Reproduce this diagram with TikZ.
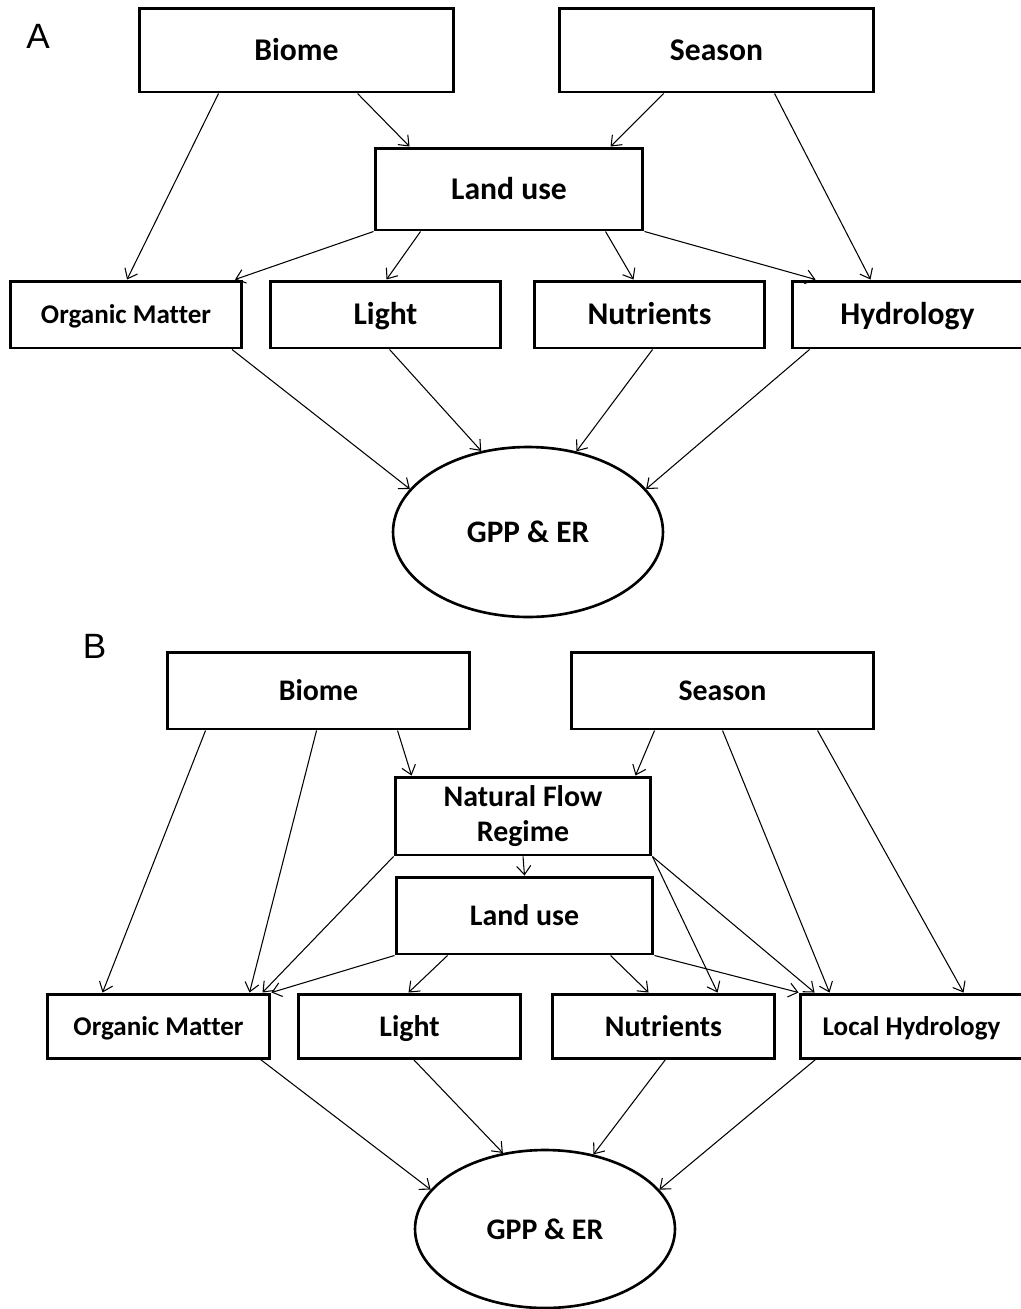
\documentclass[tikz,border=0pt]{standalone}
\usepackage{fontspec}
\setmainfont{Carlito}[Ligatures=CommonOff]
\newfontfamily\panelfont{Liberation Sans}
\usetikzlibrary{arrows.meta,calc,shapes.geometric}

\tikzset{
	box/.style={draw, line width=1.7pt, inner sep=0pt, align=center, text height=11.6pt, text depth=0pt},
	topA/.style={box, minimum width=6.3cm, minimum height=1.68cm, font=\fontsize{18}{20}\selectfont\bfseries},
	midA/.style={box, minimum width=5.36cm, minimum height=1.64cm, font=\fontsize{18}{20}\selectfont\bfseries},
	lowA/.style={box, minimum width=4.62cm, minimum height=1.34cm, font=\fontsize{18}{20}\selectfont\bfseries},
	topB/.style={box, minimum width=6.06cm, minimum height=1.54cm, font=\fontsize{17}{20}\selectfont\bfseries},
	midB/.style={box, minimum width=5.14cm, minimum height=1.56cm, font=\fontsize{17}{20}\selectfont\bfseries},
	lowB/.style={box, minimum width=4.46cm, minimum height=1.28cm, font=\fontsize{17}{20}\selectfont\bfseries},
	small/.style={font=\fontsize{15.4}{18}\selectfont\bfseries, text height=10.6pt},
	outcome/.style={draw, ellipse, line width=1.5pt, inner sep=0pt},
	link/.style={->, line width=0.6pt},
	panel/.style={font=\panelfont\fontsize{20}{22}\selectfont}
}

\begin{document}
\begin{tikzpicture}[x=0.02cm, y=-0.02cm, >={Straight Barb[length=5pt,width=8pt]}]
%	frame
	\useasboundingbox (0,0) rectangle (1021,1309);

%	panel A
	\node (labA)[panel] at (38,36.5) {A};
	\node (biomeA)[topA] at (296.5,50) {Biome};
	\node (seasonA)[topA] at (716.5,50) {Season};
	\node (landA)[midA] at (509,189) {Land use};
	\node (omA)[lowA, small] at (126,314.5) {Organic Matter};
	\node (lightA)[lowA] at (385.5,314.5) {Light};
	\node (nutA)[lowA] at (649.5,314.5) {Nutrients};
	\node (hydA)[lowA] at (907.5,314.5) {Hydrology};
	\node (gppA)[outcome, minimum width=5.4cm, minimum height=3.4cm, font=\fontsize{17.8}{20}\selectfont\bfseries] at (528,532) {GPP \& ER};

	\draw[link] ($(biomeA.south west)+(81,0)$) -- ($(omA.north west)+(118,0)$);
	\draw[link] ($(biomeA.south west)+(220,0)$) -- ($(landA.north west)+(36,0)$);
	\draw[link] ($(seasonA.south west)+(106,0)$) -- ($(landA.north west)+(237,0)$);
	\draw[link] ($(seasonA.south west)+(217,0)$) -- ($(hydA.north west)+(80,0)$);
	\draw[link] (landA.south west) -- ($(omA.north west)+(226,0)$);
	\draw[link] ($(landA.south west)+(47,0)$) -- ($(lightA.north west)+(118,0)$);
	\draw[link] ($(landA.south west)+(232,0)$) -- ($(nutA.north west)+(101,0)$);
	\draw[link] (landA.south east) -- ($(hydA.north west)+(25,0)$);
	\draw[link] ($(omA.south west)+(223,0)$) -- (gppA.160);
	\draw[link] ($(lightA.south west)+(121,0)$) -- (gppA.120);
	\draw[link] ($(nutA.south west)+(120,0)$) -- (gppA.59);
	\draw[link] ($(hydA.south west)+(19,0)$) -- (gppA.20);

%	panel B
	\node (labB)[panel] at (94.5,646.5) {B};
	\node (biomeB)[topB] at (318.5,690.5) {Biome};
	\node (seasonB)[topB] at (722.5,690.5) {Season};
	\node (flowB)[midB, minimum width=5.12cm, text height={}, text depth={}] at (523,816) {Natural Flow\\Regime};
	\node (landB)[midB, minimum height=1.54cm] at (524.5,915.5) {Land use};
	\node (omB)[lowB, small] at (158.5,1026) {Organic Matter};
	\node (lightB)[lowB] at (409.5,1026) {Light};
	\node (nutB)[lowB] at (663.5,1026) {Nutrients};
	\node (hydB)[lowB, small] at (911.5,1026) {Local Hydrology};
	\node (gppB)[outcome, minimum width=5.2cm, minimum height=3.16cm, font=\fontsize{17}{20}\selectfont\bfseries] at (545,1229) {GPP \& ER};

	\draw[link] ($(biomeB.south west)+(40,0)$) -- ($(omB.north west)+(57,0)$);
	\draw[link] ($(biomeB.south west)+(151,0)$) -- ($(omB.north west)+(204,0)$);
	\draw[link] ($(biomeB.south west)+(232,0)$) -- ($(flowB.north west)+(18,0)$);
	\draw[link] ($(seasonB.south west)+(85,0)$) -- ($(flowB.north west)+(242,0)$);
	\draw[link] ($(seasonB.south west)+(153,0)$) -- ($(hydB.north west)+(31,0)$);
	\draw[link] ($(seasonB.south west)+(248,0)$) -- ($(hydB.north west)+(165,0)$);
	\draw[link] (flowB.south) -- (landB.north);
	\draw[link] (flowB.south west) -- ($(omB.north west)+(217,0)$);
	\draw[link] (flowB.south east) -- ($(nutB.north west)+(167,0)$);
	\draw[link] (flowB.south east) -- ($(hydB.north west)+(16,0)$);
	\draw[link] (landB.south west) -- (omB.north east);
	\draw[link] ($(landB.south west)+(53,0)$) -- ($(lightB.north west)+(112,0)$);
	\draw[link] ($(landB.south west)+(216,0)$) -- ($(nutB.north west)+(98,0)$);
	\draw[link] (landB.south east) -- (hydB.north west);
	\draw[link] ($(omB.south west)+(215,0)$) -- (gppB.161);
	\draw[link] ($(lightB.south west)+(117,0)$) -- (gppB.119);
	\draw[link] ($(nutB.south west)+(115,0)$) -- (gppB.57);
	\draw[link] ($(hydB.south west)+(17,0)$) -- (gppB.19);

\end{tikzpicture}
\end{document}
